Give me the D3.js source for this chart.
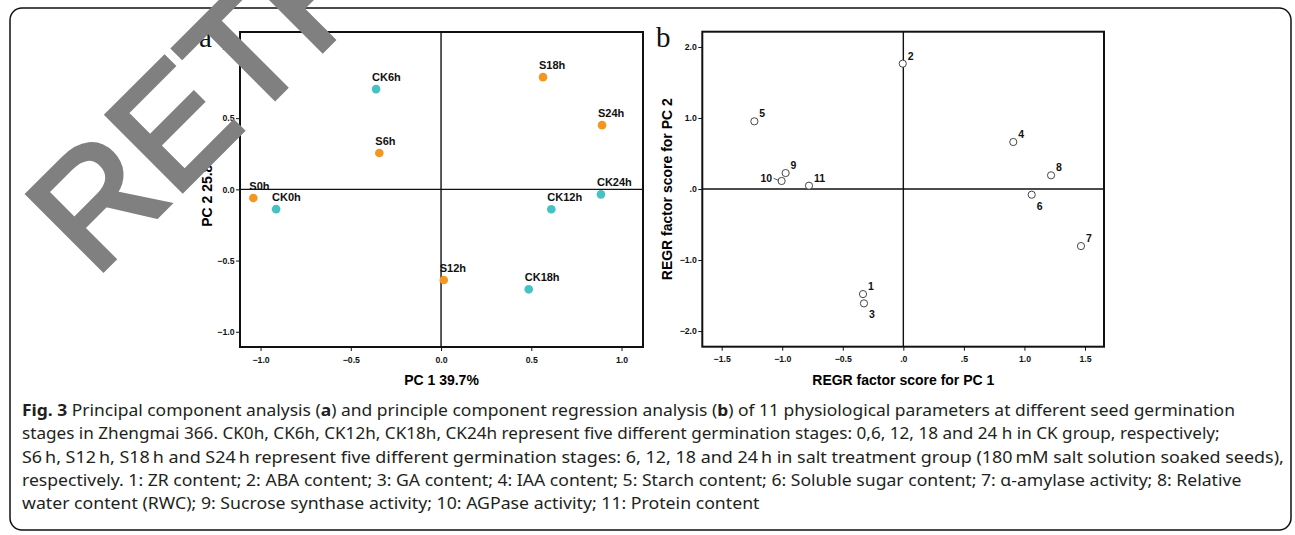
<!DOCTYPE html>
<html>
<head>
<meta charset="utf-8">
<script src="https://cdn.jsdelivr.net/npm/d3@7"></script>
<style>
  body { margin: 0; background: #fff; }
  .tick text { font-family: "Liberation Sans", Arial, sans-serif; font-weight: bold; font-size: 8.7px; }
  .lbl { font-family: "Liberation Sans", Arial, sans-serif; font-weight: bold; }
  .axtitle { font-family: "Liberation Sans", Arial, sans-serif; font-weight: bold; font-size: 14px; }
  .cap { font-family: "Noto Sans", "Open Sans", sans-serif; font-size: 15.5px; fill: #231f20; }
</style>
</head>
<body>
<script>
// panel a: PCA scores of germination stages
var stageNames = ["CK0h", "CK6h", "CK12h", "CK18h", "CK24h", "S0h", "S6h", "S12h", "S18h", "S24h"];
var stagePC1 = [-0.914, -0.360, 0.611, 0.486, 0.886, -1.040, -0.342, 0.015, 0.565, 0.892];
var stagePC2 = [-0.139, 0.704, -0.140, -0.702, -0.035, -0.061, 0.255, -0.637, 0.788, 0.451];

// panel b: regression factor scores of the 11 parameters
var paramIds = ["1", "2", "3", "4", "5", "6", "7", "8", "9", "10", "11"];
var paramPC1 = [-0.333, -0.005, -0.325, 0.908, -1.230, 1.060, 1.467, 1.220, -0.972, -1.005, -0.779];
var paramPC2 = [-1.479, 1.765, -1.610, 0.662, 0.953, -0.080, -0.803, 0.193, 0.225, 0.113, 0.047];

var ticksA = [-1, -0.5, 0, 0.5, 1];
var ticksBx = [-1.5, -1, -0.5, 0, 0.5, 1, 1.5];
var ticksBy = [-2, -1, 0, 1, 2];

var captionLines = [
  [["Fig. 3", true], [" Principal component analysis (", false], ["a", true], [") and principle component regression analysis (", false], ["b", true], [") of 11 physiological parameters at different seed germination", false]],
  [["stages in Zhengmai 366. CK0h, CK6h, CK12h, CK18h, CK24h represent five different germination stages: 0,6, 12, 18 and 24 h in CK group, respectively;", false]],
  [["S6\u2009h, S12\u2009h, S18\u2009h and S24\u2009h represent five different germination stages: 6, 12, 18 and 24\u2009h in salt treatment group (180\u2009mM salt solution soaked seeds),", false]],
  [["respectively. 1: ZR content; 2: ABA content; 3: GA content; 4: IAA content; 5: Starch content; 6: Soluble sugar content; 7: \u03b1-amylase activity; 8: Relative", false]],
  [["water content (RWC); 9: Sucrose synthase activity; 10: AGPase activity; 11: Protein content", false]]
];

var stages = stageNames.map((n, i) => ({name: n, x: stagePC1[i], y: stagePC2[i], grp: n.startsWith("CK") ? "CK" : "S"}));
var params = paramIds.map((n, i) => ({id: n, x: paramPC1[i], y: paramPC2[i]}));

var w = 1295, h = 535;
var svg = d3.select("body").append("svg").attr("width", w).attr("height", h);
svg.append("rect").attr("width", w).attr("height", h).attr("fill", "#fff");

// outer rounded frame
svg.append("rect")
  .attr("x", 10).attr("y", 8).attr("width", 1281).attr("height", 522)
  .attr("rx", 12).attr("fill", "none").attr("stroke", "#111").attr("stroke-width", 1.5);

function panel(box, xDom, yDom, xt, yt, xf, yf) {
  var x = d3.scaleLinear().domain(xDom).range([box.l, box.r]);
  var y = d3.scaleLinear().domain(yDom).range([box.b, box.t]);
  var g = svg.append("g");
  // zero lines
  g.append("line").attr("x1", x(0)).attr("x2", x(0)).attr("y1", box.t).attr("y2", box.b)
    .attr("stroke", "#111").attr("stroke-width", 1.4);
  g.append("line").attr("x1", box.l).attr("x2", box.r).attr("y1", y(0)).attr("y2", y(0))
    .attr("stroke", "#111").attr("stroke-width", 1.4);
  g.append("g").attr("transform", "translate(0," + box.b + ")")
    .call(d3.axisBottom(x).tickValues(xt).tickFormat(xf).tickSize(4).tickPadding(5.5).tickSizeOuter(0))
    .call(a => a.select(".domain").remove());
  g.append("g").attr("transform", "translate(" + box.l + ",0)")
    .call(d3.axisLeft(y).tickValues(yt).tickFormat(yf).tickSize(4).tickPadding(1.5).tickSizeOuter(0))
    .call(a => a.select(".domain").remove());
  g.selectAll(".tick line").attr("stroke", "#111");
  g.selectAll(".tick text").attr("fill", "#111");
  g.append("rect").attr("x", box.l).attr("y", box.t)
    .attr("width", box.r - box.l).attr("height", box.b - box.t)
    .attr("fill", "none").attr("stroke", "#111").attr("stroke-width", 2);
  return {x: x, y: y, g: g};
}

// ---- panel a
var boxA = {l: 240, r: 643, t: 32, b: 347};
var pa = panel(boxA, [-1.114, 1.119], [-1.107, 1.105], ticksA, ticksA, d3.format(".1f"), d3.format(".1f"));
var colour = {CK: "#45c3c4", S: "#f5961f"};

pa.g.selectAll("circle.stage").data(stages).enter().append("circle")
  .attr("class", "stage")
  .attr("cx", d => pa.x(d.x)).attr("cy", d => pa.y(d.y)).attr("r", 4.3)
  .attr("fill", d => colour[d.grp]);

pa.g.selectAll("text.stage").data(stages).enter().append("text")
  .attr("class", "lbl")
  .attr("x", d => pa.x(d.x) - 4).attr("y", d => pa.y(d.y) - 8)
  .attr("font-size", 11).attr("fill", "#111")
  .text(d => d.name);

svg.append("text").attr("class", "axtitle")
  .attr("x", (boxA.l + boxA.r) / 2).attr("y", 385).attr("text-anchor", "middle")
  .text("PC 1 39.7%");
svg.append("text").attr("class", "axtitle")
  .attr("transform", "translate(212," + (boxA.t + boxA.b) / 2 + ") rotate(-90)")
  .attr("text-anchor", "middle").text("PC 2 25.8%");

// ---- panel b
var boxB = {l: 702.3, r: 1104, t: 31.7, b: 346.7};
var spss = v => v === 0 ? ".0" : d3.format(".1f")(v).replace(/^(-?)0\./, "$1.");
var pb = panel(boxB, [-1.66, 1.657], [-2.22, 2.215], ticksBx, ticksBy, spss, spss);

pb.g.selectAll("circle.param").data(params).enter().append("circle")
  .attr("class", "param")
  .attr("cx", d => pb.x(d.x)).attr("cy", d => pb.y(d.y)).attr("r", 3.6)
  .attr("fill", "#fff").attr("stroke", "#333").attr("stroke-width", 0.9);

var below = {"3": 1, "6": 1};
pb.g.selectAll("text.param").data(params).enter().append("text")
  .attr("class", "lbl")
  .attr("font-size", 10.5).attr("fill", "#111")
  .attr("x", d => d.id === "10" ? pb.x(d.x) - 9.5 : pb.x(d.x) + 5)
  .attr("y", d => d.id === "10" ? pb.y(d.y) + 1 : below[d.id] ? pb.y(d.y) + 15 : pb.y(d.y) - 4)
  .attr("text-anchor", d => d.id === "10" ? "end" : "start")
  .text(d => d.id);

// leader for the crowded label 10
var p10 = params.find(d => d.id === "10");
pb.g.append("line")
  .attr("x1", pb.x(p10.x) - 8).attr("y1", pb.y(p10.y) - 2.7)
  .attr("x2", pb.x(p10.x) - 2.8).attr("y2", pb.y(p10.y) - 0.5)
  .attr("stroke", "#333").attr("stroke-width", 0.8);

svg.append("text").attr("class", "axtitle")
  .attr("x", 903.3).attr("y", 385).attr("text-anchor", "middle")
  .text("REGR factor score for PC 1");
svg.append("text").attr("class", "axtitle")
  .attr("transform", "translate(672," + (boxB.t + boxB.b) / 2 + ") rotate(-90)")
  .attr("text-anchor", "middle").text("REGR factor score for PC 2");

// panel letters
svg.append("text").attr("x", 199).attr("y", 47).attr("font-family", "Liberation Serif, serif")
  .attr("font-size", 29).attr("fill", "#111").text("a");
svg.append("text").attr("x", 656).attr("y", 47).attr("font-family", "Liberation Serif, serif")
  .attr("font-size", 29).attr("fill", "#111").text("b");

// caption, each line stretched to the width it has in the figure
var capEnds = [1235, 1221, 1285, 1242, 760];
var capBase = [416, 439, 463, 486, 509];
captionLines.forEach((parts, i) => {
  var t = svg.append("text").attr("class", "cap");
  parts.forEach(p => t.append("tspan").attr("font-weight", p[1] ? "bold" : null).text(p[0]));
  var len = t.node().getComputedTextLength();
  var k = (capEnds[i] - 22) / len;
  t.attr("transform", "translate(22," + capBase[i] + ") scale(" + k + ",1)");
});

// retraction watermark
svg.append("text")
  .attr("transform", "translate(94.5,278.5) rotate(-45)")
  .attr("font-family", "Liberation Sans, Arial, sans-serif")
  .attr("font-size", 155).attr("fill", "#808080")
  .attr("stroke", "#808080").attr("stroke-width", 5).attr("stroke-linejoin", "miter")
  .text("RETRACTED");
</script>
</body>
</html>
